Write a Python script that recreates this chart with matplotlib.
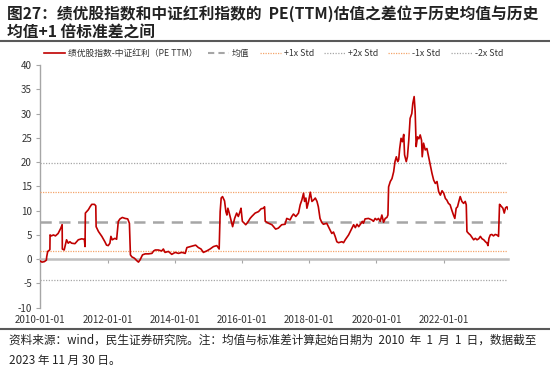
import matplotlib
matplotlib.use("Agg")
import matplotlib.pyplot as plt
import matplotlib.dates as mdates
from matplotlib.lines import Line2D
import pandas as pd
import numpy as np

plt.rcParams['font.family'] = ['Noto Sans CJK SC', 'DejaVu Sans']

# ---- data ----
year_frac = [
    2010.00, 2010.05, 2010.12, 2010.18, 2010.19, 2010.22, 2010.26, 2010.285, 2010.29, 2010.33,
    2010.39, 2010.45, 2010.53, 2010.61, 2010.65, 2010.655, 2010.71, 2010.78, 2010.83, 2010.88,
    2010.93, 2011.03, 2011.08, 2011.13, 2011.23, 2011.31, 2011.33, 2011.34, 2011.38, 2011.43,
    2011.48, 2011.53, 2011.61, 2011.65, 2011.66, 2011.73, 2011.83, 2011.92, 2011.97, 2012.02,
    2012.07, 2012.10, 2012.14, 2012.22, 2012.27, 2012.32, 2012.37, 2012.44, 2012.52, 2012.60,
    2012.65, 2012.68, 2012.72, 2012.80, 2012.87, 2012.92, 2012.97, 2013.04, 2013.12, 2013.22,
    2013.32, 2013.37, 2013.42, 2013.51, 2013.61, 2013.66, 2013.71, 2013.81, 2013.91, 2014.01,
    2014.11, 2014.21, 2014.31, 2014.36, 2014.46, 2014.56, 2014.62, 2014.70, 2014.78, 2014.85,
    2014.95, 2015.05, 2015.15, 2015.25, 2015.32, 2015.35, 2015.38, 2015.42, 2015.48, 2015.52,
    2015.55, 2015.58, 2015.62, 2015.68, 2015.72, 2015.78, 2015.84, 2015.89, 2015.94, 2015.97,
    2016.01, 2016.07, 2016.11, 2016.17, 2016.24, 2016.29, 2016.39, 2016.49, 2016.57, 2016.64,
    2016.67, 2016.69, 2016.79, 2016.89, 2017.00, 2017.08, 2017.18, 2017.28, 2017.33, 2017.43,
    2017.48, 2017.53, 2017.60, 2017.68, 2017.73, 2017.78, 2017.83, 2017.86, 2017.90, 2017.93,
    2017.98, 2018.03, 2018.08, 2018.13, 2018.18, 2018.23, 2018.27, 2018.32, 2018.37, 2018.42,
    2018.52, 2018.57, 2018.62, 2018.67, 2018.72, 2018.77, 2018.82, 2018.87, 2018.97, 2019.02,
    2019.07, 2019.17, 2019.27, 2019.32, 2019.37, 2019.42, 2019.47, 2019.52, 2019.58, 2019.61,
    2019.66, 2019.76, 2019.86, 2019.91, 2019.96, 2020.01, 2020.06, 2020.11, 2020.16, 2020.21,
    2020.26, 2020.31, 2020.34, 2020.36, 2020.41, 2020.46, 2020.51, 2020.55, 2020.59, 2020.63,
    2020.66, 2020.69, 2020.73, 2020.77, 2020.81, 2020.835, 2020.885, 2020.92, 2020.96, 2021.00,
    2021.05, 2021.08, 2021.12, 2021.15, 2021.18, 2021.22, 2021.26, 2021.30, 2021.34, 2021.36,
    2021.40, 2021.45, 2021.50, 2021.55, 2021.60, 2021.65, 2021.70, 2021.75, 2021.80, 2021.85,
    2021.90, 2021.95, 2022.00, 2022.05, 2022.09, 2022.14, 2022.19, 2022.24, 2022.29, 2022.33,
    2022.37, 2022.41, 2022.45, 2022.49, 2022.54, 2022.59, 2022.64, 2022.67, 2022.69, 2022.74,
    2022.79, 2022.84, 2022.89, 2022.94, 2022.99, 2023.04, 2023.09, 2023.14, 2023.19, 2023.24,
    2023.29, 2023.315, 2023.345, 2023.385, 2023.43, 2023.48, 2023.53, 2023.58, 2023.63, 2023.66,
    2023.70, 2023.76, 2023.80, 2023.84, 2023.88, 2023.91,
]
pe_diff = [
    -0.4, -0.6, -0.5, -0.2, 0.5, 1.6, 1.8, 2.0, 5.0, 4.8,
    5.0, 4.8, 5.3, 6.4, 7.1, 2.1, 1.9, 4.0, 3.3, 3.6,
    3.3, 3.2, 3.6, 4.0, 4.2, 4.1, 2.6, 9.5, 9.8, 10.2,
    10.8, 11.3, 11.3, 11.0, 6.7, 5.7, 4.7, 3.6, 2.9, 2.8,
    3.3, 4.7, 4.0, 4.3, 4.1, 7.8, 8.3, 8.6, 8.4, 8.3,
    7.4, 0.9, 0.5, 0.2, -0.3, -0.6, -0.1, 0.9, 1.1, 1.1,
    1.2, 1.7, 1.9, 1.9, 1.7, 2.1, 1.4, 1.6, 1.0, 1.4,
    1.2, 1.4, 1.2, 2.4, 2.6, 2.8, 2.9, 2.4, 2.1, 1.4,
    1.7, 2.1, 2.6, 2.8, 2.1, 9.8, 12.6, 12.9, 12.0, 9.8,
    9.1, 10.5, 9.5, 7.8, 6.7, 8.4, 9.5, 8.8, 9.8, 10.5,
    7.8, 7.4, 7.1, 7.6, 8.4, 8.8, 9.5, 9.8, 10.4, 10.5,
    10.8, 7.8, 7.4, 7.1, 6.2, 6.4, 7.1, 7.2, 8.4, 8.1,
    8.8, 9.3, 8.8, 9.5, 11.2, 12.2, 13.6, 11.9, 12.6, 10.5,
    11.9, 13.8, 11.9, 12.2, 12.6, 11.9, 10.8, 8.4, 7.6, 7.2,
    7.4, 6.7, 6.0, 5.3, 5.6, 4.7, 3.6, 3.4, 3.6, 3.4,
    4.0, 5.0, 6.4, 7.1, 6.5, 7.2, 6.7, 7.2, 7.8, 7.4,
    8.3, 8.4, 8.1, 7.8, 8.4, 8.1, 8.4, 7.8, 9.1, 7.6,
    8.4, 8.6, 9.1, 14.9, 16.0, 16.6, 18.0, 20.1, 21.1, 20.1,
    20.5, 22.8, 24.9, 24.2, 25.7, 21.5, 20.1, 21.1, 24.5, 29.0,
    30.0, 32.1, 33.5, 30.4, 23.2, 25.2, 24.8, 25.6, 24.5, 21.1,
    23.9, 22.5, 22.8, 21.1, 19.3, 17.7, 16.3, 15.6, 16.0, 13.9,
    13.2, 14.1, 13.6, 12.5, 12.2, 11.5, 11.2, 10.1, 9.1, 8.4,
    10.5, 10.8, 11.9, 12.9, 11.9, 11.5, 11.9, 11.2, 5.7, 5.3,
    5.0, 4.5, 4.0, 4.3, 4.0, 4.2, 4.7, 4.2, 4.0, 3.6,
    3.3, 2.8, 4.3, 5.0, 5.1, 4.8, 5.1, 5.0, 4.7, 11.3,
    11.0, 10.5, 9.5, 10.6, 10.8, 10.3,
]
mean_val = 7.75
plus1_std = 13.8
plus2_std = 19.85
minus1_std = 1.7
minus2_std = -4.35

x_tick_labels = ['2010-01-01', '2012-01-01', '2014-01-01', '2016-01-01',
                 '2018-01-01', '2020-01-01', '2022-01-01']
y_ticks = [-10, -5, 0, 5, 10, 15, 20, 25, 30, 35, 40]
x_start, x_end = '2010-01-01', '2023-11-30'

series_label = '绩优股指数-中证红利（PE TTM）'
title_line1 = '图27：绩优股指数和中证红利指数的  PE(TTM)估值之差位于历史均值与历史'
title_line2 = '均值+1 倍标准差之间'
note_line1 = '资料来源：wind，民生证券研究院。注：均值与标准差计算起始日期为  2010  年  1  月  1  日，数据截至'
note_line2 = '2023 年 11 月 30 日。'

# ---- build ----
base = pd.Timestamp('2010-01-01')
dates = [base + pd.Timedelta(days=(y - 2010.0) * 365.25) for y in year_frac]

fig = plt.figure(figsize=(5.5, 3.69), dpi=100)
ax = fig.add_axes([0.0733, 0.166, 0.8503, 0.6578])

red = '#C00000'
grey = '#A6A6A6'
orange = '#F4A46A'

ax.plot(dates, pe_diff, color=red, lw=1.2, zorder=5)
ax.axhline(mean_val, color=grey, lw=1.8, ls=(0, (4.5, 3.0)), zorder=3)
ax.axhline(plus1_std, color=orange, lw=0.9, ls=(0, (1, 1)), zorder=3)
ax.axhline(minus1_std, color=orange, lw=0.9, ls=(0, (1, 1)), zorder=3)
ax.axhline(plus2_std, color=grey, lw=0.9, ls=(0, (1, 1.2)), zorder=3)
ax.axhline(minus2_std, color=grey, lw=0.9, ls=(0, (1, 1.2)), zorder=3)

ax.set_xlim(pd.Timestamp(x_start), pd.Timestamp(x_end))
ax.set_ylim(-10, 40)
ax.set_yticks(y_ticks)
ax.set_yticklabels([str(v) for v in y_ticks], fontsize=7, color='#333333')

for s in ['top', 'right']:
    ax.spines[s].set_visible(False)
ax.spines['left'].set_color(grey)
ax.spines['left'].set_linewidth(1.0)
ax.spines['bottom'].set_position(('data', 0))
ax.spines['bottom'].set_color('#BFBFBF')
ax.spines['bottom'].set_linewidth(1.8)
ax.tick_params(axis='y', length=3, width=0.8, color=grey, pad=3)

tick_pos = [pd.Timestamp(t) for t in x_tick_labels]
ax.set_xticks(tick_pos)
ax.tick_params(axis='x', length=3, width=0.8, color=grey, labelbottom=False, direction='out')

sec = ax.secondary_xaxis(0.0)
sec.set_xticks(mdates.date2num(tick_pos))
sec.set_xticklabels(x_tick_labels, fontsize=7, color='#333333')
sec.tick_params(length=0, pad=5)
sec.spines['bottom'].set_visible(False)

# legend
handles = [
    Line2D([], [], color=red, lw=1.2),
    Line2D([], [], color=grey, lw=1.5, ls=(0, (3, 2))),
    Line2D([], [], color=orange, lw=0.9, ls=(0, (1, 1))),
    Line2D([], [], color=grey, lw=0.9, ls=(0, (1, 1.2))),
    Line2D([], [], color=orange, lw=0.9, ls=(0, (1, 1))),
    Line2D([], [], color=grey, lw=0.9, ls=(0, (1, 1.2))),
]
labels = [series_label, '均值', '+1x Std', '+2x Std', '-1x Std', '-2x Std']
fig.legend(handles, labels, loc='center', bbox_to_anchor=(0.498, 0.856), ncol=6,
           frameon=False, fontsize=6.3, handlelength=2.4, handletextpad=0.35,
           columnspacing=1.15, labelcolor='#333333')

# title & notes
fig.text(0.013, 0.964, title_line1, fontsize=11.3, fontweight='bold', color='#222222',
         ha='left', va='center')
fig.text(0.013, 0.912, title_line2, fontsize=11.3, fontweight='bold', color='#222222',
         ha='left', va='center')
fig.add_artist(Line2D([0, 1], [0.8897, 0.8897], transform=fig.transFigure,
                      color='#595959', lw=1.5))
fig.add_artist(Line2D([0, 1], [0.1084, 0.1084], transform=fig.transFigure,
                      color='#595959', lw=1.5))
fig.text(0.016, 0.0786, note_line1, fontsize=8.4, color='#222222', ha='left', va='center')
fig.text(0.016, 0.0236, note_line2, fontsize=8.4, color='#222222', ha='left', va='center')

fig.savefig('out.png', dpi=100)
